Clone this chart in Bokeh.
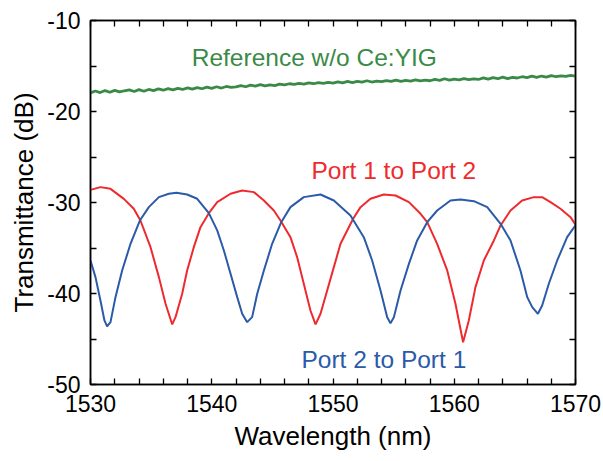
from bokeh.plotting import figure
from bokeh.models import FixedTicker, LinearAxis, Label
from bokeh.embed import file_html
from bokeh.resources import INLINE
import numpy as np

# ---- data ----
x_major = [1530, 1540, 1550, 1560, 1570]
x_labels = ["1530", "1540", "1550", "1560", "1570"]
x_minor = [1532, 1534, 1536, 1538, 1542, 1544, 1546, 1548, 1552, 1554, 1556, 1558,
           1562, 1564, 1566, 1568]
y_major = [-50, -40, -30, -20, -10]
y_labels = ["-50", "-40", "-30", "-20", "-10"]
y_minor = [-45, -35, -25, -15]

red_wl = [1530.0, 1530.82, 1531.65, 1532.75, 1533.57, 1534.12, 1534.95, 1535.64, 1536.19,
          1536.74, 1537.01, 1537.56, 1537.97, 1538.52, 1539.07, 1539.76, 1540.45, 1541.55,
          1542.51, 1543.47, 1544.30, 1545.12, 1545.67, 1546.49, 1547.04, 1547.59, 1548.14,
          1548.56, 1548.97, 1549.52, 1550.07, 1550.62, 1551.66, 1552.27, 1553.09, 1554.19,
          1555.16, 1556.26, 1557.22, 1557.77, 1558.59, 1559.42, 1560.10, 1560.73, 1561.20,
          1561.75, 1562.44, 1563.27, 1563.82, 1564.64, 1565.60, 1566.56, 1567.25, 1567.94,
          1568.76, 1569.59, 1570.0]
red_db = [-28.61, -28.31, -28.50, -29.60, -30.69, -31.98, -34.91, -38.20, -41.13,
          -43.40, -42.60, -40.03, -37.47, -34.91, -32.71, -31.17, -29.96, -29.04,
          -28.68, -28.86, -29.78, -30.88, -31.98, -33.81, -36.00, -38.93, -41.87,
          -43.40, -42.23, -39.67, -37.10, -34.54, -31.79, -30.51, -29.59, -29.12,
          -29.23, -29.96, -31.24, -32.16, -34.54, -37.47, -41.13, -45.35, -42.96,
          -39.30, -36.37, -34.17, -32.52, -30.88, -29.78, -29.41, -29.41, -29.96,
          -30.69, -31.61, -32.45]

blue_wl = [1530.0, 1530.41, 1530.82, 1531.15, 1531.37, 1531.65, 1532.06, 1532.61, 1533.30,
           1534.07, 1534.81, 1535.64, 1536.46, 1537.09, 1537.97, 1538.80, 1539.76, 1540.45,
           1541.00, 1541.55, 1542.10, 1542.51, 1542.92, 1543.33, 1543.75, 1544.30, 1544.98,
           1545.73, 1546.49, 1547.59, 1548.97, 1550.07, 1551.44, 1552.54, 1553.23, 1553.92,
           1554.47, 1554.74, 1555.02, 1555.57, 1556.26, 1556.94, 1557.77, 1558.59, 1559.69,
           1560.52, 1561.62, 1562.72, 1563.82, 1564.64, 1565.46, 1566.02, 1566.43, 1566.90,
           1567.25, 1567.80, 1568.49, 1569.31, 1570.0]
blue_db = [-36.37, -38.20, -40.77, -42.96, -43.62, -43.15, -40.40, -37.47, -34.54,
           -31.98, -30.51, -29.41, -29.04, -28.93, -29.12, -29.59, -31.17, -33.07,
           -35.27, -37.84, -40.40, -42.23, -43.15, -42.60, -40.03, -37.47, -34.54,
           -32.16, -30.51, -29.41, -29.12, -29.78, -31.43, -33.81, -36.37, -39.67,
           -42.60, -43.26, -42.60, -39.67, -36.74, -34.17, -32.16, -30.88, -29.78,
           -29.67, -29.85, -30.51, -32.34, -34.17, -37.47, -40.40, -41.50, -42.23,
           -41.32, -38.93, -36.37, -33.81, -32.50]

ref_wl = list(np.round(np.arange(1530.0, 1570.01, 0.4), 2))
ref_db = [-17.95, -17.75, -17.92, -17.70, -17.88, -17.68, -17.85, -17.72, -17.62, -17.80,
          -17.60, -17.78, -17.58, -17.70, -17.52, -17.66, -17.48, -17.62, -17.45, -17.58,
          -17.40, -17.55, -17.38, -17.50, -17.32, -17.45, -17.28, -17.42, -17.25, -17.36,
          -17.30, -17.15, -17.28, -17.10, -17.22, -17.05, -17.18, -17.08, -17.15, -17.00,
          -17.08, -16.95, -17.02, -16.90, -16.98, -16.85, -16.95, -16.82, -16.92, -16.80,
          -16.88, -16.75, -16.85, -16.70, -16.82, -16.68, -16.78, -16.62, -16.76, -16.65,
          -16.72, -16.60, -16.70, -16.55, -16.68, -16.58, -16.65, -16.52, -16.63, -16.55,
          -16.62, -16.48, -16.58, -16.40, -16.55, -16.45, -16.52, -16.38, -16.50, -16.42,
          -16.48, -16.30, -16.45, -16.28, -16.40, -16.22, -16.38, -16.25, -16.32, -16.18,
          -16.28, -16.12, -16.25, -16.10, -16.22, -16.05, -16.18, -16.08, -16.15, -16.02,
          -16.10]

RED = "#EE2A2E"
BLUE = "#2A5AA8"
GREEN = "#3A8A47"
FONT = "Liberation Sans"

p = figure(width=602, height=460, x_range=(1530, 1570), y_range=(-50, -10),
           output_backend="svg", toolbar_location=None,
           min_border_left=90, min_border_right=27, min_border_top=20, min_border_bottom=76)
p.xgrid.visible = False
p.ygrid.visible = False
p.outline_line_color = "black"
p.outline_line_width = 1.5
p.background_fill_color = "white"

p.line(ref_wl, ref_db, line_color=GREEN, line_width=2.8)
p.line(red_wl, red_db, line_color=RED, line_width=2)
p.line(blue_wl, blue_db, line_color=BLUE, line_width=2)


def style_ticks(ax):
    ax.major_tick_in = 6
    ax.major_tick_out = 0
    ax.minor_tick_in = 6
    ax.minor_tick_out = 0
    ax.major_tick_line_color = "black"
    ax.minor_tick_line_color = "black"
    ax.major_tick_line_width = 1.3
    ax.minor_tick_line_width = 1.3
    ax.axis_line_color = "black"
    ax.axis_line_width = 1.5


def style_main(ax, ticks, labels, minors, label):
    ax.ticker = FixedTicker(ticks=ticks, minor_ticks=minors)
    ax.major_label_overrides = {t: s for t, s in zip(ticks, labels)}
    style_ticks(ax)
    ax.major_label_text_font = FONT
    ax.major_label_text_font_size = "23px"
    ax.major_label_text_color = "black"
    ax.major_label_standoff = 10
    ax.axis_label = label
    ax.axis_label_text_font = FONT
    ax.axis_label_text_font_size = "26px"
    ax.axis_label_text_font_style = "normal"
    ax.axis_label_text_color = "black"
    ax.axis_label_standoff = 6


def style_mirror(ax, ticks, minors):
    # mirror axis: every tick drawn as a (label-less) minor tick
    ax.ticker = FixedTicker(ticks=[], minor_ticks=sorted(ticks + minors))
    style_ticks(ax)
    ax.major_label_standoff = 0


style_main(p.xaxis[0], x_major, x_labels, x_minor, "Wavelength (nm)")
style_main(p.yaxis[0], y_major, y_labels, y_minor, "Transmittance (dB)")
p.yaxis[0].axis_label_standoff = 5

top = LinearAxis()
style_mirror(top, x_major, x_minor)
p.add_layout(top, "above")
right = LinearAxis()
style_mirror(right, y_major, y_minor)
p.add_layout(right, "right")

for txt, x, y, col in [("Reference w/o Ce:YIG", 1538.35, -14.08, GREEN),
                       ("Port 1 to Port 2", 1548.22, -26.53, RED),
                       ("Port 2 to Port 1", 1547.40, -47.22, BLUE)]:
    p.add_layout(Label(x=x, y=y, text=txt, text_color=col, text_font=FONT,
                       text_font_size="24.5px", text_align="left",
                       text_baseline="alphabetic"))

open("out.html", "w").write(file_html(p, INLINE))
